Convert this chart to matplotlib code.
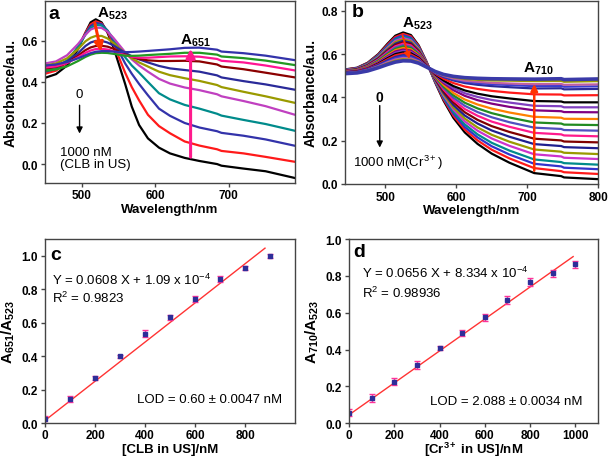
import matplotlib
matplotlib.use("Agg")
import matplotlib.pyplot as plt

plt.rcParams['font.family'] = ['Liberation Sans', 'DejaVu Sans']
plt.rcParams['mathtext.fontset'] = 'custom'
plt.rcParams['mathtext.rm'] = 'Liberation Sans'
plt.rcParams['mathtext.it'] = 'Liberation Sans:italic'
plt.rcParams['mathtext.bf'] = 'Liberation Sans:bold'

# ── Panel a: UV-vis spectra, CLB in US (0 → 1000 nM) ─────────────────────────
wl_a = [450, 465, 480, 495, 505, 512, 519, 527, 535, 543, 551, 559,
        568, 578, 590, 605, 620, 640, 660, 684, 690, 720, 750, 790]
spectra_a = [
    [.420, .438, .480, .560, .640, .690, .705, .690, .640, .570, .480, .390,
     .280, .190, .125, .080, .052, .030, .015, .000, -.008, -.022, -.035, -.068],
    [.440, .455, .495, .570, .640, .680, .695, .685, .645, .585, .515, .445,
     .375, .310, .240, .185, .150, .110, .090, .072, .064, .052, .035, .011],
    [.450, .463, .500, .570, .635, .672, .688, .682, .650, .600, .545, .490,
     .440, .390, .335, .270, .235, .200, .178, .160, .152, .138, .120, .089],
    [.460, .472, .505, .570, .630, .662, .678, .675, .650, .610, .565, .520,
     .480, .445, .400, .345, .315, .288, .270, .245, .236, .215, .195, .162],
    [.490, .500, .530, .585, .630, .655, .665, .663, .645, .615, .580, .545,
     .510, .480, .450, .415, .392, .373, .360, .340, .330, .307, .282, .240],
    [.480, .490, .515, .560, .598, .615, .624, .624, .612, .590, .565, .540,
     .515, .495, .475, .450, .433, .418, .405, .385, .375, .352, .330, .298],
    [.470, .478, .500, .540, .575, .592, .600, .600, .592, .578, .560, .542,
     .525, .510, .495, .478, .466, .458, .450, .432, .422, .404, .388, .362],
    [.465, .473, .492, .528, .555, .568, .575, .576, .572, .562, .548, .534,
     .522, .512, .505, .502, .502, .503, .500, .485, .475, .462, .445, .422],
    [.470, .476, .492, .520, .542, .553, .560, .561, .558, .550, .540, .530,
     .522, .518, .518, .521, .524, .525, .523, .512, .503, .495, .480, .456],
    [.455, .461, .476, .502, .522, .533, .540, .542, .541, .537, .532, .528,
     .527, .528, .531, .534, .537, .542, .542, .533, .524, .516, .504, .482],
    [.480, .485, .497, .515, .530, .540, .547, .550, .550, .548, .546, .545,
     .546, .548, .551, .555, .559, .566, .567, .557, .548, .540, .528, .506],
]
colors_a = ['#000000', '#ff1a1a', '#3333aa', '#008b8b', '#c040c0', '#9a9a00',
            '#2a2a99', '#8b0000', '#ff1493', '#229922', '#3333aa']

# ── Panel b: UV-vis spectra, Cr3+ (0 → 1000 nM) ──────────────────────────────
wl_b = [445, 460, 475, 490, 503, 514, 525, 536, 547, 558, 570,
        582, 596, 612, 630, 650, 675, 710, 748, 752, 800]
spectra_b = [
    [.530, .537, .560, .600, .648, .685, .700, .688, .640, .565, .470,
     .385, .305, .238, .185, .140, .098, .050, .036, .030, .022],
    [.529, .536, .558, .597, .643, .679, .693, .682, .636, .564, .473,
     .391, .315, .251, .201, .158, .118, .073, .059, .054, .046],
    [.528, .535, .556, .594, .638, .673, .687, .676, .632, .563, .475,
     .397, .324, .263, .215, .174, .136, .093, .081, .075, .068],
    [.527, .533, .554, .591, .634, .667, .680, .670, .628, .561, .477,
     .403, .333, .275, .229, .190, .154, .113, .101, .096, .089],
    [.526, .532, .552, .587, .629, .661, .674, .664, .624, .560, .480,
     .409, .344, .289, .246, .210, .176, .137, .127, .121, .115],
    [.525, .531, .551, .584, .624, .655, .667, .658, .620, .559, .483,
     .415, .353, .302, .261, .227, .195, .159, .149, .144, .138],
    [.524, .530, .549, .581, .619, .648, .661, .652, .615, .557, .485,
     .422, .364, .316, .279, .247, .218, .184, .175, .170, .165],
    [.523, .529, .547, .578, .614, .642, .654, .646, .611, .556, .488,
     .429, .376, .331, .296, .267, .240, .209, .201, .196, .192],
    [.522, .527, .545, .575, .610, .636, .648, .640, .607, .555, .491,
     .437, .387, .346, .315, .288, .264, .236, .229, .224, .220],
    [.521, .526, .543, .572, .605, .630, .641, .634, .603, .553, .493,
     .444, .398, .361, .332, .308, .285, .260, .254, .249, .246],
    [.520, .525, .541, .569, .600, .624, .635, .628, .599, .552, .496,
     .450, .409, .375, .349, .327, .307, .284, .279, .274, .272],
    [.519, .524, .539, .565, .595, .618, .628, .622, .595, .551, .499,
     .458, .420, .390, .367, .348, .330, .310, .306, .301, .300],
    [.518, .523, .537, .562, .590, .612, .621, .616, .591, .549, .502,
     .466, .433, .407, .387, .371, .356, .340, .336, .332, .331],
    [.517, .522, .535, .559, .586, .606, .615, .610, .587, .548, .504,
     .472, .443, .419, .402, .388, .376, .361, .359, .354, .354],
    [.516, .520, .533, .556, .581, .600, .608, .604, .583, .547, .507,
     .478, .452, .432, .417, .405, .395, .383, .381, .377, .377],
    [.515, .519, .532, .553, .576, .594, .602, .598, .579, .545, .510,
     .486, .466, .450, .439, .430, .422, .414, .413, .409, .410],
    [.514, .518, .530, .550, .571, .587, .595, .592, .574, .544, .513,
     .494, .478, .466, .458, .452, .447, .441, .442, .437, .439],
    [.513, .517, .528, .546, .566, .581, .589, .586, .570, .543, .514,
     .497, .483, .473, .466, .461, .457, .452, .453, .449, .451],
    [.512, .515, .526, .543, .562, .575, .582, .580, .566, .542, .516,
     .500, .487, .477, .472, .467, .464, .461, .462, .458, .460],
    [.511, .514, .524, .540, .557, .569, .576, .574, .562, .541, .518,
     .503, .493, .485, .481, .478, .477, .475, .476, .472, .475],
    [.510, .513, .522, .537, .552, .563, .569, .568, .558, .540, .520,
     .506, .497, .491, .488, .486, .485, .484, .486, .482, .485],
]
colors_b = ['#000000', '#ff1a1a', '#3333cc', '#008b8b', '#cc33cc', '#9a9a00', '#1f1f8f',
            '#800000', '#ff1a8c', '#5050c0', '#228b22', '#ff8000', '#800080', '#8040c0',
            '#000000', '#ff1a1a', '#2a2a99', '#3b3bd0', '#c060a0', '#9a9a00', '#3a3aa8']

# ── Panel c: calibration CLB ──────────────────────────────────────────────────
conc_c = [0, 100, 200, 300, 400, 500, 600, 700, 800, 900]
ratio_c = [0.022, 0.145, 0.270, 0.400, 0.535, 0.632, 0.742, 0.862, 0.928, 1.000]
err_c = [0.020, 0.018, 0.012, 0.010, 0.020, 0.015, 0.015, 0.020, 0.010, 0.010]
fit_c_x = [0, 880]
fit_c_y = [0.016, 1.046]

# ── Panel d: calibration Cr3+ ─────────────────────────────────────────────────
conc_d = [0, 100, 200, 300, 400, 500, 600, 700, 800, 900, 1000]
ratio_d = [0.056, 0.136, 0.226, 0.316, 0.407, 0.490, 0.575, 0.669, 0.765, 0.814, 0.863]
err_d = [0.020, 0.020, 0.020, 0.020, 0.012, 0.015, 0.020, 0.020, 0.022, 0.018, 0.018]
fit_d_x = [0, 990]
fit_d_y = [0.045, 0.905]

fig = plt.figure(figsize=(6.09, 4.6), dpi=100)
ax_a = fig.add_axes([0.0739, 0.601, 0.4105, 0.395])
ax_b = fig.add_axes([0.5665, 0.598, 0.4155, 0.398])
ax_c = fig.add_axes([0.0739, 0.078, 0.4105, 0.400])
ax_d = fig.add_axes([0.5731, 0.078, 0.4089, 0.400])

xlabel_font = dict(fontsize=9.5, fontweight='bold')
ylabel_font = dict(fontsize=10, fontweight='bold')

for ax in (ax_a, ax_b, ax_c, ax_d):
    for sp in ax.spines.values():
        sp.set_color('#444444')
        sp.set_linewidth(1.0)
    ax.tick_params(direction='out', length=3, width=1, color='#444444', pad=2)
for ax in (ax_c, ax_d):
    ax.tick_params(axis='x', pad=1)

# ── a ──
for ys, c in zip(spectra_a, colors_a):
    ax_a.plot(wl_a, ys, color=c, lw=1.6)
ax_a.set_xlim(450, 790)
ax_a.set_ylim(-0.09, 0.795)
ax_a.set_xticks([500, 600, 700])
ax_a.set_yticks([0.0, 0.2, 0.4, 0.6])
ax_a.set_xlabel('Wavelength/nm', labelpad=1, **xlabel_font)
ax_a.set_ylabel('Absorbance/a.u.', labelpad=3, **ylabel_font)
ax_a.annotate('', xy=(527, 0.535), xytext=(517, 0.70),
              arrowprops=dict(arrowstyle='-|>', color='#ff3300', lw=2.2, mutation_scale=13))
ax_a.annotate('', xy=(648, 0.575), xytext=(648, 0.02),
              arrowprops=dict(arrowstyle='-|>', color='#ff1a8c', lw=2.2, mutation_scale=13))
ax_a.text(521, 0.735, r'$\mathbf{A_{523}}$', fontsize=11, va='center')
ax_a.text(634, 0.605, r'$\mathbf{A_{651}}$', fontsize=11, va='center')
ax_a.text(497, 0.34, '0', fontsize=9.5, ha='center', va='center')
ax_a.annotate('', xy=(497, 0.135), xytext=(497, 0.30),
              arrowprops=dict(arrowstyle='-|>', color='black', lw=1, mutation_scale=9))
ax_a.text(470, 0.03, '1000 nM\n(CLB in US)', fontsize=9.5, ha='left', va='center',
          linespacing=1.05)
ax_a.text(0.012, 0.93, 'a', transform=ax_a.transAxes, fontsize=14, fontweight='bold',
          va='center')

# ── b ──
for i, (ys, c) in enumerate(zip(spectra_b, colors_b)):
    ax_b.plot(wl_b, ys, color=c, lw=2.6 if i == len(spectra_b) - 1 else 1.6)
ax_b.set_xlim(443, 800)
ax_b.set_ylim(0.0, 0.846)
ax_b.set_xticks([500, 600, 700, 800])
ax_b.set_yticks([0.0, 0.2, 0.4, 0.6, 0.8])
ax_b.set_xlabel('Wavelength/nm', labelpad=1, **xlabel_font)
ax_b.set_ylabel('Absorbance/a.u.', labelpad=3, **ylabel_font)
ax_b.annotate('', xy=(535, 0.565), xytext=(523, 0.70),
              arrowprops=dict(arrowstyle='-|>', color='#ff3300', lw=1.4, mutation_scale=9))
ax_b.annotate('', xy=(710, 0.475), xytext=(710, 0.048),
              arrowprops=dict(arrowstyle='-|>', color='#ff3300', lw=1.8, mutation_scale=10))
ax_b.text(523, 0.745, r'$\mathbf{A_{523}}$', fontsize=11, va='center')
ax_b.text(694, 0.535, r'$\mathbf{A_{710}}$', fontsize=11, va='center')
ax_b.text(492, 0.40, '0', fontsize=10, fontweight='bold', ha='center', va='center')
ax_b.annotate('', xy=(492, 0.155), xytext=(492, 0.375),
              arrowprops=dict(arrowstyle='-|>', color='black', lw=1, mutation_scale=9))
ax_b.text(517, 0.10, r'1000 nM(Cr$^{3+}$)', fontsize=9.5, ha='center', va='center')
ax_b.text(0.027, 0.94, 'b', transform=ax_b.transAxes, fontsize=14, fontweight='bold',
          va='center')

# ── c ──
ax_c.plot(fit_c_x, fit_c_y, color='#ff3333', lw=1)
ax_c.errorbar(conc_c, ratio_c, yerr=err_c, fmt='s', ms=3.5, color='#2e2e99',
              ecolor='#ff3399', elinewidth=1, capsize=2, capthick=1)
ax_c.set_xlim(0, 1000)
ax_c.set_ylim(0, 1.1)
ax_c.set_xticks([0, 200, 400, 600, 800])
ax_c.set_yticks([0.0, 0.2, 0.4, 0.6, 0.8, 1.0])
ax_c.set_xlabel('[CLB in US]/nM', **xlabel_font)
ax_c.xaxis.set_label_coords(0.5, -0.138)
ax_c.xaxis.label.set_va('center')
ax_c.set_ylabel(r'$\mathbf{A_{651}/A_{523}}$', labelpad=3, fontsize=11)
ax_c.text(0.02, 0.918, 'c', transform=ax_c.transAxes, fontsize=14, fontweight='bold',
          va='center')
ax_c.text(0.027, 0.783, r'Y = 0.0608 X + 1.09 x 10$^{-4}$', transform=ax_c.transAxes,
          fontsize=9.5, va='center')
ax_c.text(0.027, 0.684, r'R$^2$ = 0.9823', transform=ax_c.transAxes, fontsize=9.5,
          va='center')
ax_c.text(0.367, 0.132, 'LOD = 0.60 ± 0.0047 nM', transform=ax_c.transAxes, fontsize=9.5,
          va='center')

# ── d ──
ax_d.plot(fit_d_x, fit_d_y, color='#ff3333', lw=1)
ax_d.errorbar(conc_d, ratio_d, yerr=err_d, fmt='s', ms=3.5, color='#2e2e99',
              ecolor='#ff3399', elinewidth=1, capsize=2, capthick=1)
ax_d.set_xlim(0, 1100)
ax_d.set_ylim(0, 1.0)
ax_d.set_xticks([0, 200, 400, 600, 800, 1000])
ax_d.set_yticks([0.0, 0.2, 0.4, 0.6, 0.8, 1.0])
ax_d.set_xlabel(r'[Cr$^{\mathbf{3+}}$ in US]/nM', **xlabel_font)
ax_d.xaxis.set_label_coords(0.5, -0.138)
ax_d.xaxis.label.set_va('center')
ax_d.set_ylabel(r'$\mathbf{A_{710}/A_{523}}$', labelpad=3, fontsize=11)
ax_d.text(0.016, 0.932, 'd', transform=ax_d.transAxes, fontsize=14, fontweight='bold',
          va='center')
ax_d.text(0.051, 0.82, r'Y = 0.0656 X + 8.334 x 10$^{-4}$', transform=ax_d.transAxes,
          fontsize=9.5, va='center')
ax_d.text(0.051, 0.711, r'R$^2$ = 0.98936', transform=ax_d.transAxes, fontsize=9.5,
          va='center')
ax_d.text(0.326, 0.119, 'LOD = 2.088 ± 0.0034 nM', transform=ax_d.transAxes, fontsize=9.5,
          va='center')

for ax in (ax_a, ax_b, ax_c, ax_d):
    for lab in ax.get_xticklabels() + ax.get_yticklabels():
        lab.set_fontweight('bold')
        lab.set_fontsize(8.5)

fig.savefig('out.png', dpi=100)
